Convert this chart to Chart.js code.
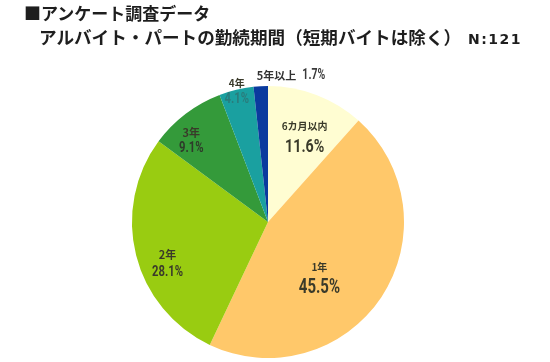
<!DOCTYPE html>
<html><head><meta charset="utf-8">
<script src="https://cdn.jsdelivr.net/npm/chart.js@4/dist/chart.umd.min.js"></script>
<style>
html,body{margin:0;padding:0;background:#fff;}
#wrap{position:relative;width:550px;height:362px;overflow:hidden;}
canvas{position:absolute;left:0;top:0;}
.t{position:absolute;font-family:"Noto Sans CJK JP","Noto Sans",sans-serif;font-weight:bold;color:#1e1e1e;white-space:nowrap;line-height:1;}
</style></head>
<body><div id="wrap">
<canvas id="c" width="550" height="362"></canvas>
<div class="t" style="left:24px;top:4px;font-size:17px;">■アンケート調査データ</div>
<div class="t" style="left:39px;top:28px;font-size:17.6px;">アルバイト・パートの勤続期間（短期バイトは除く）</div>
<div class="t" style="left:468px;top:32px;font-size:14px;font-family:'DejaVu Sans',sans-serif;letter-spacing:1.5px;">N:121</div>
</div>
<script>
const categories = ["6カ月以内", "1年", "2年", "3年", "4年", "5年以上"];
const values = [11.6, 45.5, 28.1, 9.1, 4.1, 1.7];
const colors = ["#FFFDD2", "#FFC86A", "#99CC11", "#349A3A", "#1AA0A0", "#0A3A9E"];

// label styling: angle offset (deg) from slice mid, radius fraction, font sizes, colours
const labelStyle = [
  {da: 2.5, rf: 0.68, cs: 10, vs: 19, vc: "#3a3a2a", gap: 20},
  {da: 14, rf: 0.56, cs: 10, vs: 20, vc: "#3a3a2a", gap: 20},
  {da: -8.5, rf: 0.80, cs: 11, vs: 15, vc: "#3a3a2a", gap: 17},
  {da: -6.3, rf: 0.82, cs: 11, vs: 15, vc: "#2e3a2a", gap: 15},
  {da: 0, rf: 0.985, cs: 10, vs: 15, vc: "#2a7c7c", gap: 16},
  {da: 12, rf: 1.09, cs: 11, vs: 14, vc: "#3a3a3a", inline: true}
];
const SX = 0.75; // horizontal condensing of percentage text

function drawPct(ctx, txt, x, y, size, align) {
  ctx.save();
  ctx.font = "bold " + size + "px Roboto, 'Noto Sans', sans-serif";
  ctx.textAlign = align;
  ctx.translate(x, y);
  ctx.scale(SX, 1);
  ctx.fillText(txt, 0, 0);
  ctx.restore();
}

const labelPlugin = {
  id: "sliceLabels",
  afterDatasetsDraw(chart) {
    const ctx = chart.ctx;
    const meta = chart.getDatasetMeta(0);
    meta.data.forEach((arc, i) => {
      const st = labelStyle[i];
      const mid = (arc.startAngle + arc.endAngle) / 2 + st.da * Math.PI / 180;
      const r = arc.outerRadius * st.rf;
      const x = arc.x + Math.cos(mid) * r;
      const y = arc.y + Math.sin(mid) * r;
      const pct = values[i].toFixed(1) + "%";
      ctx.save();
      ctx.textAlign = "center";
      ctx.textBaseline = "middle";
      if (st.inline) {
        ctx.font = "bold " + st.cs + "px 'Noto Sans CJK JP'";
        const w1 = ctx.measureText(categories[i]).width + 6;
        ctx.font = "bold " + st.vs + "px Roboto";
        const w2 = ctx.measureText(pct).width * SX;
        const x0 = x - (w1 + w2) / 2;
        ctx.textAlign = "left";
        ctx.fillStyle = "#333";
        ctx.font = "bold " + st.cs + "px 'Noto Sans CJK JP'";
        ctx.fillText(categories[i], x0, y);
        ctx.fillStyle = st.vc;
        drawPct(ctx, pct, x0 + w1, y, st.vs, "left");
      } else {
        ctx.fillStyle = "#3a3a2a";
        ctx.font = "bold " + st.cs + "px 'Noto Sans CJK JP'";
        ctx.fillText(categories[i], x, y - st.gap / 2 - 1);
        ctx.fillStyle = st.vc;
        drawPct(ctx, pct, x, y + st.gap / 2, st.vs, "center");
      }
      ctx.restore();
    });
  }
};

new Chart(document.getElementById("c"), {
  type: "pie",
  data: {
    labels: categories,
    datasets: [{ data: values, backgroundColor: colors, borderWidth: 0 }]
  },
  options: {
    responsive: false,
    animation: false,
    layout: { padding: { top: 86, bottom: 4, left: 132, right: 146 } },
    plugins: { legend: { display: false }, tooltip: { enabled: false }, title: { display: false } }
  },
  plugins: [labelPlugin]
});
</script>
</body></html>
